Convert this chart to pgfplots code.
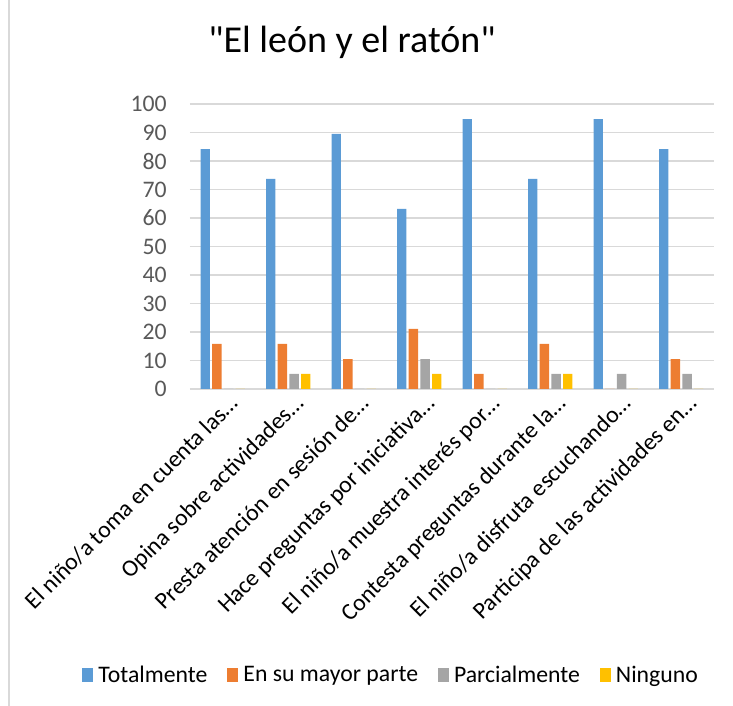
\documentclass[border=0pt]{standalone}
\usepackage{pgfplots}
\pgfplotsset{compat=1.18}
\usepackage{fontspec}
\setmainfont{Carlito}
\newfontfamily\titlefont{Carlito}[Ligatures=TeXOff]
\definecolor{cBlue}{HTML}{5B9BD5}
\definecolor{cOrange}{HTML}{ED7D31}
\definecolor{cGray}{HTML}{A5A5A5}
\definecolor{cYellow}{HTML}{FFC000}
\definecolor{cGrid}{HTML}{D9D9D9}
\definecolor{cText}{HTML}{595959}
\begin{document}
\begin{tikzpicture}
\useasboundingbox (-142.5pt,-237.75pt) rectangle (407.25pt,291.75pt);
\draw[cGrid, line width=0.8pt] (-135.75pt,-237.75pt) -- (-135.75pt,291.75pt);
\begin{axis}[
  at={(0,0)}, anchor=south west,
  scale only axis, width=393pt, height=213.75pt,
  ybar=1.65pt, bar width=7.1pt,
  xmin=-0.5, xmax=7.5, ymin=0, ymax=100,
  xtick={0,...,7},
  xticklabels={El niño/a toma en cuenta las…, Opina sobre actividades…, Presta atención en sesión de…, Hace preguntas por iniciativa…, El niño/a muestra interés por…, Contesta preguntas durante la…, El niño/a disfruta escuchando…, Participa de las actividades en…},
  xticklabel style={rotate=45, anchor=north east, font=\fontsize{17.8}{20}\selectfont, text=black, inner sep=1pt, yshift=-4pt, xshift=1.5pt},
  ytick={0,10,...,100},
  yticklabel style={font=\fontsize{17.8}{20}\selectfont, text=cText, xshift=-14pt},
  /pgf/number format/assume math mode=true,
  major tick length=0pt,
  axis x line*=bottom, axis y line*=left,
  y axis line style={draw=none},
  x axis line style={cGrid, line width=1pt, -},
  ymajorgrids, major grid style={cGrid, line width=1pt},
  legend style={at={(0.3845,-1.0035)}, anchor=center, draw=none, fill=none,
    legend columns=4, font=\fontsize{17.8}{20}\selectfont, text=black,
    /tikz/every even column/.append style={column sep=13pt},
    /tikz/every odd column/.append style={column sep=2pt}},
  legend image code/.code={\fill[#1] (0pt,-5pt) rectangle (8pt,5pt);},
  every axis plot/.append style={draw=none},
]
\addplot[fill=cBlue] coordinates {(0,84.2) (1,73.7) (2,89.5) (3,63.2) (4,94.7) (5,73.7) (6,94.7) (7,84.2)};
\addplot[fill=cOrange] coordinates {(0,15.8) (1,15.8) (2,10.5) (3,21.1) (4,5.3) (5,15.8) (6,0) (7,10.5)};
\addplot[fill=cGray] coordinates {(0,0) (1,5.3) (2,0) (3,10.5) (4,0) (5,5.3) (6,5.3) (7,5.3)};
\addplot[fill=cYellow] coordinates {(0,0) (1,5.3) (2,0) (3,5.3) (4,0) (5,5.3) (6,0) (7,0)};
\legend{Totalmente, En su mayor parte, Parcialmente, Ninguno}
\end{axis}
\node[font=\titlefont\fontsize{28.5}{32}\selectfont, text=black] at (121.5pt,260.25pt) {"El león y el ratón"};
\end{tikzpicture}
\end{document}
